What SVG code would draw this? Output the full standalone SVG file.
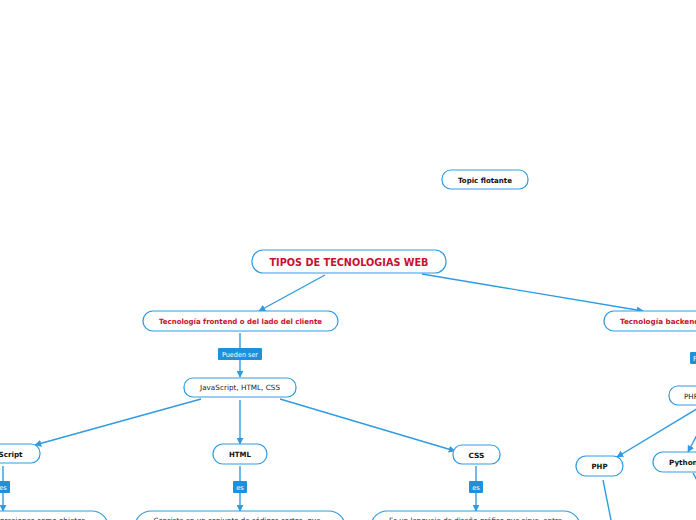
<svg xmlns="http://www.w3.org/2000/svg" width="696" height="520" viewBox="0 0 696 520">
<style>
.n{fill:#fff;stroke:#2f9be3;stroke-width:1.2}
.l{fill:#1e90dc}
.t{font-family:"DejaVu Sans",Verdana,sans-serif;font-size:7.2px;fill:#222;text-anchor:middle}
.b{font-weight:bold;fill:#111}
.r{fill:#c8102e;font-weight:bold}
.w{fill:#fff;font-size:6.8px}
.c{stroke:#2f9be3;stroke-width:1.4;fill:none;marker-end:url(#a)}
.c2{stroke:#2f9be3;stroke-width:1.4;fill:none}
</style>
<defs>
<marker id="a" viewBox="0 0 10 10" refX="9" refY="5" markerWidth="7" markerHeight="7" orient="auto" markerUnits="userSpaceOnUse">
<path d="M0,0 L10,5 L0,10 z" fill="#2f9be3"/>
</marker>
</defs>
<rect width="696" height="520" fill="#fff"/>
<g id="connectors">
<line class="c" x1="325" y1="275" x2="259" y2="311"/>
<line class="c" x1="422" y1="274" x2="643" y2="311"/>
<line class="c" x1="240" y1="333" x2="240" y2="377"/>
<line class="c" x1="201" y1="399" x2="35" y2="445"/>
<line class="c" x1="240" y1="400" x2="240" y2="444"/>
<line class="c" x1="280" y1="399" x2="455" y2="451"/>
<line class="c" x1="3" y1="466" x2="3" y2="511"/>
<line class="c" x1="240" y1="466" x2="240" y2="511"/>
<line class="c" x1="476" y1="466" x2="476" y2="511"/>
<line class="c" x1="700" y1="407" x2="617" y2="457"/>
<line class="c" x1="712" y1="406" x2="688" y2="452"/>
<line class="c2" x1="603" y1="480" x2="612" y2="525"/>
<line class="c2" x1="693" y1="473" x2="699" y2="484"/>
</g>
<g id="topic-flotante">
<rect class="n" x="442" y="170" width="86" height="19" rx="9"/>
<text class="t b" x="485" y="182.5" textLength="54" lengthAdjust="spacingAndGlyphs">Topic flotante</text>
</g>
<g id="main">
<rect class="n" x="252" y="250" width="194" height="23" rx="11"/>
<text class="t r" x="349" y="265.5" style="font-size:10px" textLength="159" lengthAdjust="spacingAndGlyphs">TIPOS DE TECNOLOGIAS WEB</text>
</g>
<g id="frontend">
<rect class="n" x="143" y="311" width="195" height="20" rx="10"/>
<text class="t r" x="240.5" y="323.5" textLength="163" lengthAdjust="spacingAndGlyphs">Tecnología frontend o del lado del cliente</text>
</g>
<g id="backend">
<rect class="n" x="604" y="311" width="200" height="20" rx="10"/>
<text class="t r" x="620" y="323.5" style="text-anchor:start">Tecnología backend o del lado del servidor</text>
</g>
<g id="label-pueden-ser">
<rect class="l" x="218" y="348" width="44" height="12" rx="1"/>
<text class="t w" x="240" y="356.7" textLength="36" lengthAdjust="spacingAndGlyphs">Pueden ser</text>
</g>
<g id="label-pueden-ser-2">
<rect class="l" x="690" y="352" width="44" height="12" rx="1"/>
<text class="t w" x="712" y="360.7">Pueden ser</text>
</g>
<g id="js-html-css">
<rect class="n" x="184" y="378" width="112" height="19" rx="9"/>
<text class="t" x="240" y="390" textLength="80" lengthAdjust="spacingAndGlyphs">JavaScript, HTML, CSS</text>
</g>
<g id="javascript">
<rect class="n" x="-36" y="444" width="76" height="19" rx="9"/>
<text class="t b" x="2" y="456.5">JavaScript</text>
</g>
<g id="html">
<rect class="n" x="213" y="444" width="54" height="20" rx="10"/>
<text class="t b" x="240" y="457" textLength="22" lengthAdjust="spacingAndGlyphs">HTML</text>
</g>
<g id="css">
<rect class="n" x="453" y="445" width="47" height="19" rx="9"/>
<text class="t b" x="476.5" y="457.5" textLength="16" lengthAdjust="spacingAndGlyphs">CSS</text>
</g>
<g id="label-es-1">
<rect class="l" x="-4" y="481" width="14" height="12" rx="1"/>
<text class="t w" x="3" y="489.7">es</text>
</g>
<g id="label-es-2">
<rect class="l" x="233" y="481" width="14" height="12" rx="1"/>
<text class="t w" x="240" y="489.7">es</text>
</g>
<g id="label-es-3">
<rect class="l" x="469" y="481" width="14" height="12" rx="1"/>
<text class="t w" x="476" y="489.7">es</text>
</g>
<g id="js-desc">
<rect class="n" x="-60" y="511" width="168" height="40" rx="16"/>
<text class="t" x="0" y="523" style="text-anchor:start">presiones como objetos</text>
</g>
<g id="html-desc">
<rect class="n" x="135" y="511" width="210" height="40" rx="16"/>
<text class="t" x="237" y="523" textLength="167" lengthAdjust="spacingAndGlyphs">Consiste en un conjunto de códigos cortos, que</text>
</g>
<g id="css-desc">
<rect class="n" x="371" y="511" width="209" height="40" rx="16"/>
<text class="t" x="475.5" y="523" textLength="173" lengthAdjust="spacingAndGlyphs">Es un lenguaje de diseño gráfico que sirve, entre</text>
</g>
<g id="backend-list">
<rect class="n" x="669" y="386" width="100" height="19" rx="9"/>
<text class="t" x="684" y="398.5" style="text-anchor:start">PHP, Python</text>
</g>
<g id="php">
<rect class="n" x="576" y="456" width="47" height="20" rx="10"/>
<text class="t b" x="599.5" y="469" textLength="16" lengthAdjust="spacingAndGlyphs">PHP</text>
</g>
<g id="python">
<rect class="n" x="653" y="452" width="70" height="20" rx="10"/>
<text class="t b" x="669" y="465" style="text-anchor:start">Python</text>
</g>
</svg>
